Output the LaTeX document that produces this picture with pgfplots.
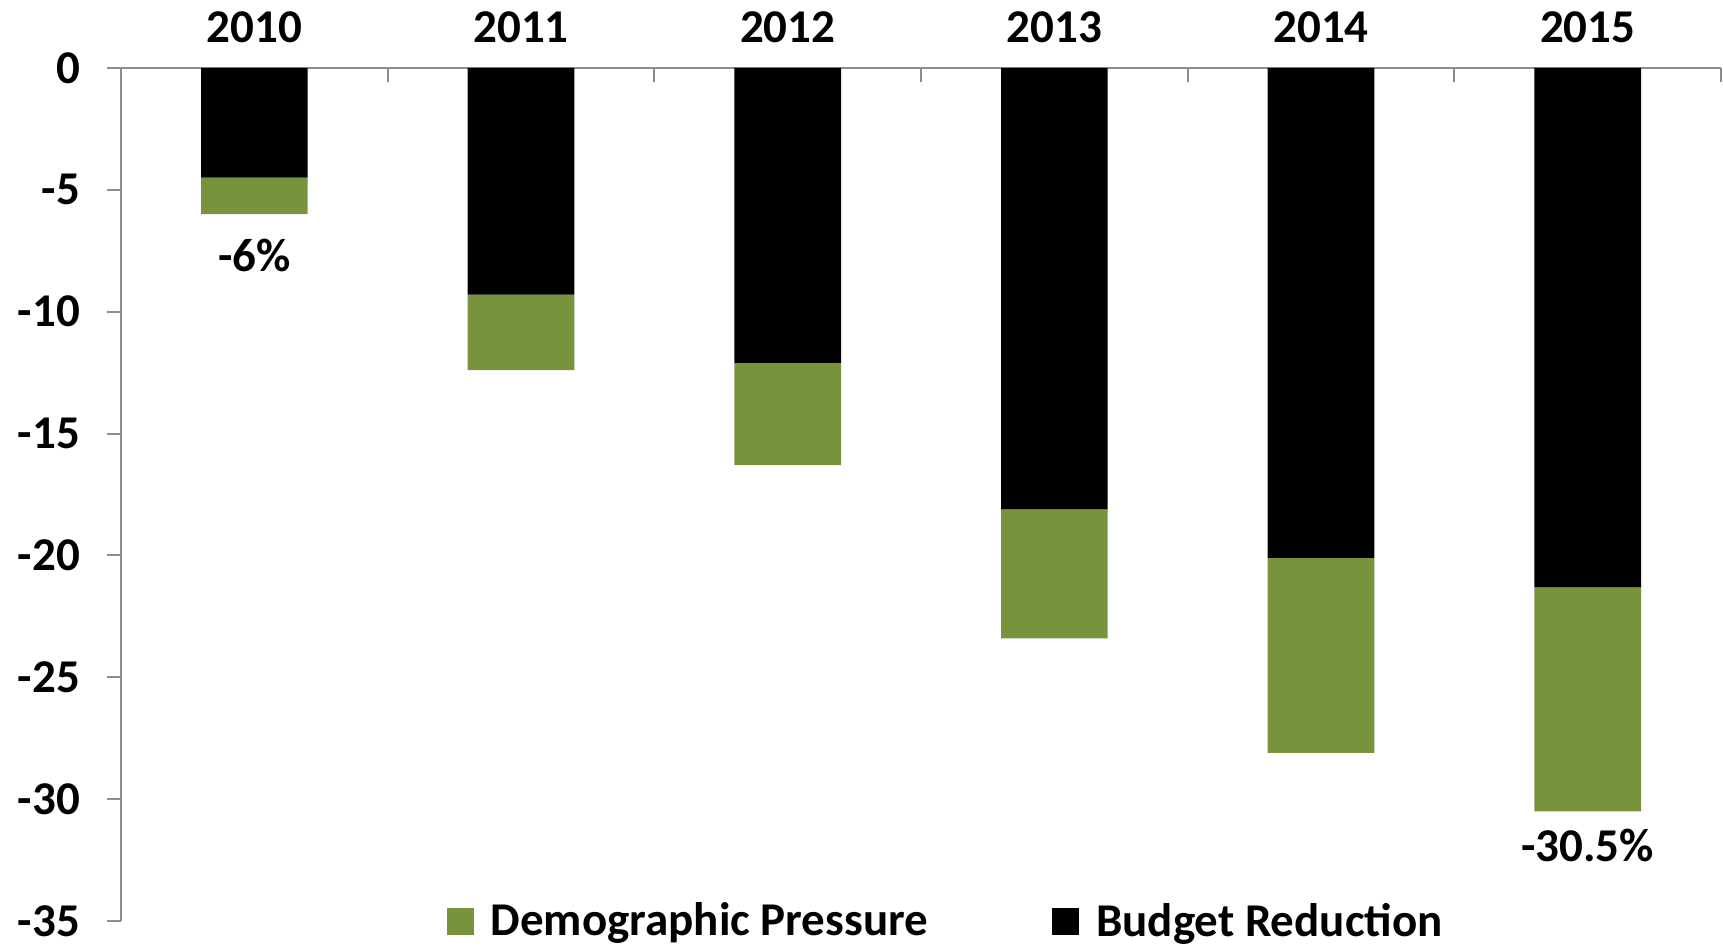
\documentclass[border=0pt]{standalone}
\usepackage{fontspec}
\setmainfont{Carlito}
\usepackage{pgfplots}
\pgfplotsset{compat=1.18}
\definecolor{demo}{HTML}{77933C}
\definecolor{axgray}{HTML}{8C8C8C}
\newcommand{\lbl}{\fontsize{23.5}{28}\selectfont\bfseries}
\begin{document}
\begin{tikzpicture}
\path[use as bounding box] (0,0) rectangle (861.5pt,473.5pt);
\begin{axis}[
  at={(60.5pt,13pt)}, anchor=south west,
  scale only axis, width=800pt, height=426.5pt,
  ybar stacked, bar width=0.4,
  xmin=-0.5, xmax=5.5, ymin=-35, ymax=0,
  axis x line*=top, axis y line*=left,
  axis line style={axgray, line width=1pt},
  tick align=outside, major tick length=7pt,
  xtick={0,...,5}, xticklabels={2010,2011,2012,2013,2014,2015},
  major x tick style={draw=none},
  extra x ticks={-0.5,0.5,...,5.5}, extra x tick labels={},
  extra x tick style={tick align=inside, major x tick style={draw=axgray, line width=1pt}},
  ytick={-35,-30,...,0},
  major y tick style={axgray, line width=1pt},
  /pgf/number format/assume math mode=true,
  ticklabel style={font=\lbl},
  xticklabel style={yshift=2pt},
  yticklabel style={xshift=-10pt},
  reverse legend,
  legend columns=2,
  legend style={at={(0.516,0)}, anchor=center, yshift=0pt, draw=none, fill=none, font=\lbl,
    /tikz/every odd column/.append style={column sep=6.5pt},
    /tikz/every even column/.append style={column sep=60pt}},
  legend image code/.code={\fill[#1,draw=none] (0pt,-6.75pt) rectangle (13.5pt,6.75pt);},
]
\addplot[fill=black, draw=none] coordinates {(0,-4.5) (1,-9.3) (2,-12.1) (3,-18.1) (4,-20.1) (5,-21.3)};
\addplot[fill=demo, draw=none] coordinates {(0,-1.5) (1,-3.1) (2,-4.2) (3,-5.3) (4,-8.0) (5,-9.2)};
\legend{Budget Reduction, Demographic Pressure}
\node[font=\lbl] at (axis cs:0,-7.7) {-6\%};
\node[font=\lbl] at (axis cs:5,-31.9) {-30.5\%};
\end{axis}
\end{tikzpicture}
\end{document}
